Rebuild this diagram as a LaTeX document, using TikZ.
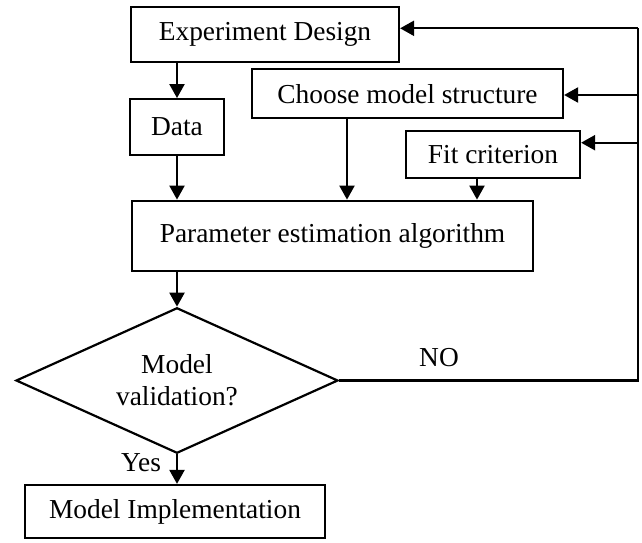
\documentclass[tikz,border=0pt]{standalone}
\usepackage{fontspec}
\setmainfont{Liberation Serif}
\usetikzlibrary{shapes.geometric,arrows.meta}
\begin{document}
\begin{tikzpicture}[x=1pt,y=-1pt,
  box/.style={draw,line width=2.2pt,inner sep=0pt,fill=white},
  dia/.style={draw,line width=2.2pt,diamond,inner sep=0pt,align=center,shape aspect=2.213},
  lbl/.style={inner sep=0pt},
  arr/.style={line width=2.2pt,-{Triangle[length=14pt,width=15pt]}},
  conn/.style={line width=2.2pt},
  every node/.style={font=\fontsize{27.4}{32}\selectfont}]
\useasboundingbox[fill=white] (0,0) rectangle (642,542);
\node[box,minimum width=268pt,minimum height=54.4pt] (ED) at (265,34.5) {Experiment Design};
\node[box,minimum width=311pt,minimum height=49pt] (CM) at (407.5,93.8) {Choose model structure};
\node[box,minimum width=94pt,minimum height=55.7pt] (DA) at (177,127) {Data};
\node[box,minimum width=174pt,minimum height=47.6pt] (FC) at (493,154.5) {Fit criterion};
\node[box,minimum width=401pt,minimum height=70pt] (PE) at (332.5,235.7) {Parameter estimation algorithm};
\node[dia,minimum width=322pt,minimum height=145.5pt] (MV) at (177,380.5) {Model\\validation?};
\node[box,minimum width=300pt,minimum height=53pt] (MI) at (175,511.5) {Model Implementation};
\node[lbl] (yes) at (141,463) {Yes};
\node[lbl] (no) at (439,358) {NO};
\coordinate (c0) at (638,28.3);
\coordinate (c1) at (638,95);
\coordinate (c2) at (638,142.7);
\coordinate (c3) at (638,380.5);
\coordinate (xa) at (347,0);
\coordinate (xb) at (477,0);
\draw[arr] (ED.south -| DA.north) -- (DA.north);
\draw[arr] (DA.south) -- (PE.north -| DA.south);
\draw[arr] (CM.south -| xa) -- (PE.north -| xa);
\draw[arr] (FC.south -| xb) -- (PE.north -| xb);
\draw[arr] (PE.south -| MV.north) -- (MV.north);
\draw[arr] (MV.south) -- (MI.north -| MV.south);
\draw[conn] (MV.east) -- (c3) -- (c0);
\draw[arr] (c0) -- (c0 -| ED.east);
\draw[arr] (c1) -- (c1 -| CM.east);
\draw[arr] (c2) -- (c2 -| FC.east);
\end{tikzpicture}
\end{document}
